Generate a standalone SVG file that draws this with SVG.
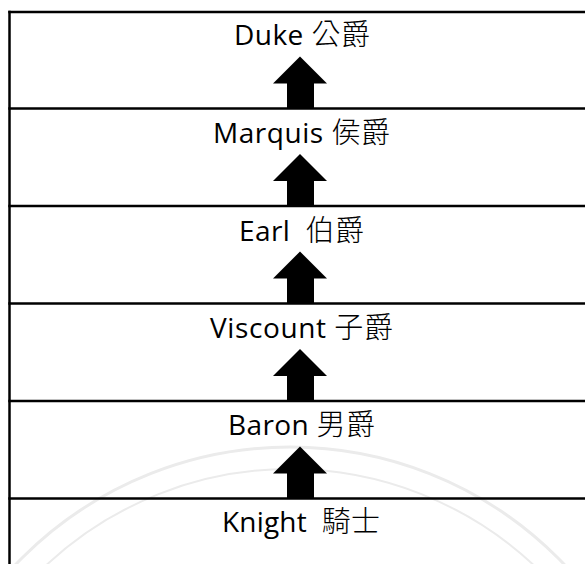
<svg xmlns="http://www.w3.org/2000/svg" width="585" height="564" viewBox="0 0 585 564">
<style>
.bg{fill:#ffffff}
.rule{stroke:#000;stroke-width:2.5;fill:none}
.wm{fill:none;stroke:#ebebeb}
.lbl{font-family:"Open Sans","Noto Sans CJK TC",sans-serif;font-size:28px;fill:#000;text-anchor:middle}
.cjk{font-family:"Noto Sans CJK TC","Noto Sans CJK SC",sans-serif;font-size:29px;font-weight:300}
.arrow{fill:#000}
</style>
<defs>
<polygon id="arw" points="0,-52 27,-25 14,-25 14,0 -13,0 -13,-25 -27,-25"/>
</defs>
<rect class="bg" x="0" y="0" width="585" height="564"/>
<g id="watermark">
<circle class="wm" cx="290" cy="826" r="379" stroke-width="3"/>
<circle class="wm" cx="290" cy="826" r="357" stroke-width="2"/>
</g>
<g id="frame">
<line class="rule" x1="9.5" y1="10.8" x2="9.5" y2="564"/>
</g>
<g id="duke">
<line class="rule" x1="8.3" y1="12" x2="585" y2="12"/>
<text class="lbl" x="302" y="45" textLength="136" lengthAdjust="spacing">Duke <tspan class="cjk">公爵</tspan></text>
</g>
<g id="marquis">
<line class="rule" x1="8.3" y1="108.5" x2="585" y2="108.5"/>
<text class="lbl" x="301.5" y="142.7" textLength="177" lengthAdjust="spacing">Marquis <tspan class="cjk">侯爵</tspan></text>
</g>
<g id="earl">
<line class="rule" x1="8.3" y1="206" x2="585" y2="206"/>
<text class="lbl" x="301.5" y="240.5" textLength="125" lengthAdjust="spacing" xml:space="preserve">Earl  <tspan class="cjk">伯爵</tspan></text>
</g>
<g id="viscount">
<line class="rule" x1="8.3" y1="303.5" x2="585" y2="303.5"/>
<text class="lbl" x="301.5" y="337.5" textLength="183" lengthAdjust="spacing">Viscount <tspan class="cjk">子爵</tspan></text>
</g>
<g id="baron">
<line class="rule" x1="8.3" y1="401" x2="585" y2="401"/>
<text class="lbl" x="301.5" y="435" textLength="147" lengthAdjust="spacing">Baron <tspan class="cjk">男爵</tspan></text>
</g>
<g id="knight">
<line class="rule" x1="8.3" y1="498.5" x2="585" y2="498.5"/>
<text class="lbl" x="301" y="532" textLength="158" lengthAdjust="spacing" xml:space="preserve">Knight  <tspan class="cjk">騎士</tspan></text>
</g>
<g id="connectors">
<use href="#arw" class="arrow" x="300" y="108.5"/>
<use href="#arw" class="arrow" x="300" y="206"/>
<use href="#arw" class="arrow" x="300" y="303.5"/>
<use href="#arw" class="arrow" x="300" y="401"/>
<use href="#arw" class="arrow" x="300" y="498.5"/>
</g>
</svg>
